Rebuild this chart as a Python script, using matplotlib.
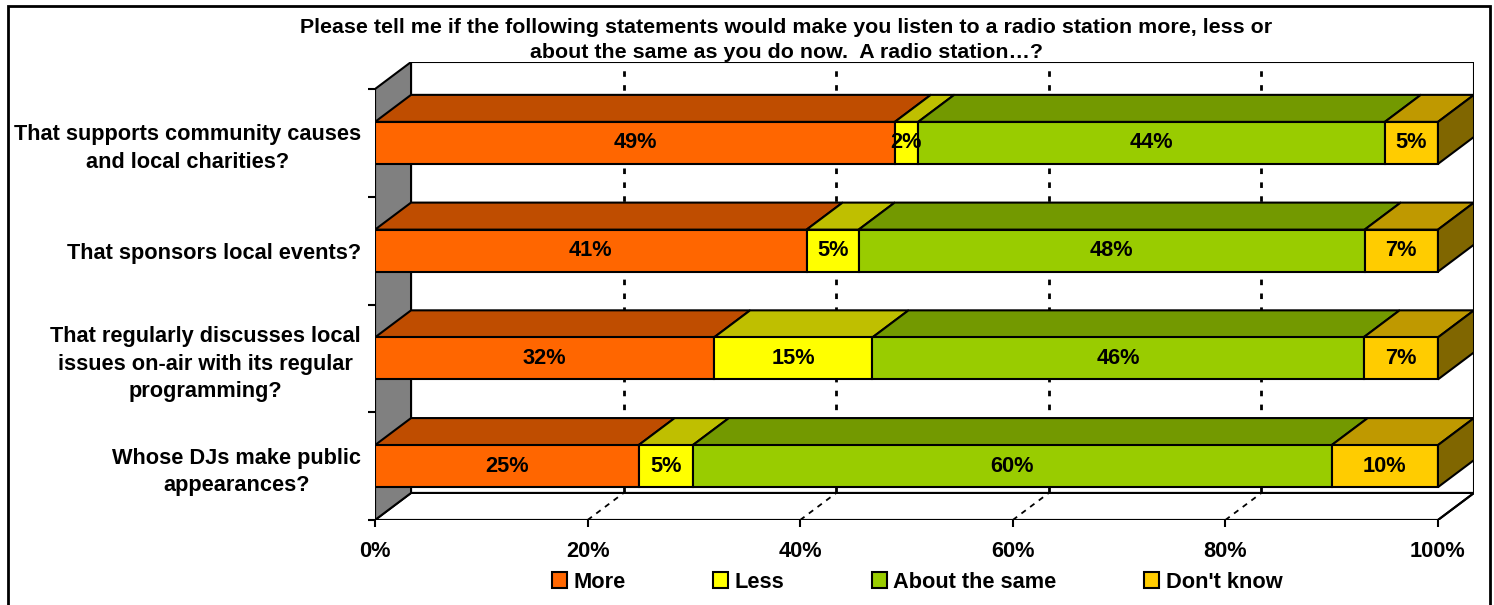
import matplotlib
matplotlib.use("Agg")
import matplotlib.pyplot as plt
from matplotlib.patches import Polygon, Rectangle, Patch
from matplotlib.colors import to_rgb

plt.rcParams['font.family'] = ['Liberation Sans', 'DejaVu Sans']
plt.rcParams['font.weight'] = 'bold'

# data (top bar first); labels are rounded
categories = [
    "That supports community causes\nand local charities?",
    "That sponsors local events?",
    "That regularly discusses local\nissues on-air with its regular\nprogramming?",
    "Whose DJs make public\nappearances?",
]
series = ["More", "Less", "About the same", "Don't know"]
more = [48.9, 40.6, 31.9, 24.8]
less = [2.2, 4.9, 14.9, 5.1]
same = [43.9, 47.6, 46.2, 60.1]
dont_know = [5.0, 6.9, 7.0, 10.0]
colors = ["#FF6600", "#FFFF00", "#99CC00", "#FFCC00"]
xticks = [0, 20, 40, 60, 80, 100]

title = ("Please tell me if the following statements would make you listen to a radio station more, less or\n"
         "about the same as you do now.  A radio station\u2026?")

# fake 3d depth (in data units)
DX = 3.39
DY = 0.251
BAR_H = 0.39
LW = 1.5
FS = 15.7


def shade(c, f):
    r, g, b = to_rgb(c)
    return (r * f, g * f, b * f)


fig = plt.figure(figsize=(14.94, 6.05), dpi=100)
ax = fig.add_axes([375 / 1494, 85 / 605, 1099 / 1494, 458 / 605])
ax.set_xlim(0, 100 + DX)
ax.set_ylim(0, 4 + DY)
for s in ax.spines.values():
    s.set_visible(False)
ax.patch.set_visible(False)

n = len(categories)
# back wall
ax.add_patch(Rectangle((DX, DY), 100, n, facecolor="white", edgecolor="black", lw=LW, zorder=1))
# floor
ax.add_patch(Polygon([(0, 0), (100, 0), (100 + DX, DY), (DX, DY)], closed=True,
                     facecolor="white", edgecolor="black", lw=LW, zorder=1))
# left wall
ax.add_patch(Polygon([(0, 0), (0, n), (DX, n + DY), (DX, DY)], closed=True,
                     facecolor="#808080", edgecolor="black", lw=LW, zorder=2))
# gridlines
for t in xticks[1:-1]:
    ax.plot([t + DX, t + DX], [DY, n + DY], color="black", lw=2, ls=(0, (2, 3)), zorder=1.5)
    ax.plot([t, t + DX], [0, DY], color="black", lw=1.3, ls=(0, (3, 3)), zorder=1.5)

# bars
data = list(zip(more, less, same, dont_know))
for i, vals in enumerate(data):
    yc = n - 0.5 - i
    y0, y1 = yc - BAR_H / 2, yc + BAR_H / 2
    left = 0
    for j, v in enumerate(vals):
        x0, x1 = left, left + v
        c = colors[j]
        z = 3 + j * 0.1
        ax.add_patch(Polygon([(x0, y1), (x1, y1), (x1 + DX, y1 + DY), (x0 + DX, y1 + DY)], closed=True,
                             facecolor=shade(c, 0.75), edgecolor="black", lw=LW, zorder=z))
        ax.add_patch(Rectangle((x0, y0), v, BAR_H, facecolor=c, edgecolor="black", lw=LW, zorder=z))
        if j == len(vals) - 1:
            ax.add_patch(Polygon([(x1, y0), (x1 + DX, y0 + DY), (x1 + DX, y1 + DY), (x1, y1)], closed=True,
                                 facecolor=shade(c, 0.5), edgecolor="black", lw=LW, zorder=z))
        ax.text((x0 + x1) / 2, yc, f"{round(v)}%", ha="center", va="center", fontsize=FS,
                fontweight="bold", zorder=5)
        left = x1

# front axis lines
ax.plot([0, 0], [0, n], color="black", lw=LW, zorder=2.5)
ax.plot([0, 100], [0, 0], color="black", lw=LW, zorder=2.5)
ax.plot([100, 100 + DX], [0, DY], color="black", lw=LW, zorder=2.5)

ax.set_xticks(xticks, [f"{t}%" for t in xticks])
ax.tick_params(axis="x", direction="out", length=5, width=LW, pad=10, labelsize=FS)
ax.set_yticks([n - 0.5 - i for i in range(n)], categories)
ax.set_yticks(range(n + 1), minor=True)
ax.tick_params(axis="y", which="major", length=0, pad=10, labelsize=FS)
ax.tick_params(axis="y", which="minor", direction="out", length=5, width=LW)
for lab in ax.get_yticklabels():
    lab.set_multialignment("center")
    lab.set_fontweight("bold")
    lab.set_linespacing(1.4)
for lab in ax.get_xticklabels():
    lab.set_fontweight("bold")

fig.text(786 / 1494, (605 - 40) / 605, title, ha="center", va="center", fontsize=15.4,
         fontweight="bold", linespacing=1.35)

handles = [Patch(facecolor=c, edgecolor="black", lw=LW) for c in colors]
fig.legend(handles, series, loc="center", bbox_to_anchor=(917 / 1494, 23 / 605), ncol=4,
           frameon=False, handlelength=0.7, handleheight=0.7,
           handletextpad=0.3, columnspacing=4.0, prop={"weight": "bold", "size": FS})

fig.add_artist(Rectangle((8 / 1494, -0.02), 1482 / 1494, 1.02 - 6 / 605, transform=fig.transFigure,
                         fill=False, edgecolor="black", lw=2))

fig.savefig("out.png", dpi=100)
